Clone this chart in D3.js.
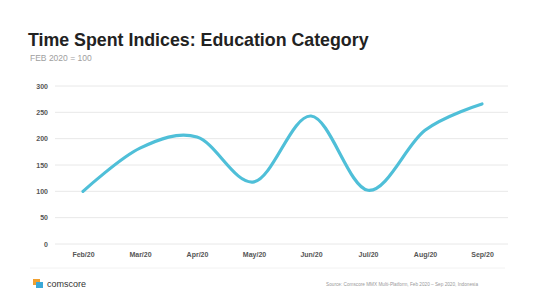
<!DOCTYPE html>
<html>
<head>
<meta charset="utf-8">
<script src="https://cdn.jsdelivr.net/npm/d3@7"></script>
<style>
  body { margin: 0; background: #fff; }
  svg { font-family: "Liberation Sans", Arial, sans-serif; }
</style>
</head>
<body>
<div id="chart"></div>
<script>
const months = ["Feb/20", "Mar/20", "Apr/20", "May/20", "Jun/20", "Jul/20", "Aug/20", "Sep/20"];
const index = [100, 182, 203, 118, 243, 102, 216, 266];
const yTicks = [0, 50, 100, 150, 200, 250, 300];

const width = 534, height = 300;
const margin = { top: 86, right: 26, bottom: 56, left: 55 };

const svg = d3.select("#chart").append("svg")
  .attr("width", width)
  .attr("height", height);

// titles
svg.append("text")
  .attr("x", 28).attr("y", 46)
  .style("font-size", "17.8px").style("font-weight", "bold")
  .attr("fill", "#222")
  .text("Time Spent Indices: Education Category");

svg.append("text")
  .attr("x", 30).attr("y", 61)
  .style("font-size", "8.5px")
  .attr("fill", "#a0a0a0")
  .text("FEB 2020 = 100");

const x = d3.scalePoint()
  .domain(months)
  .range([83, 482]);

const y = d3.scaleLinear()
  .domain([0, 300])
  .range([height - margin.bottom, margin.top]);

// gridlines
svg.append("g")
  .selectAll("line")
  .data(yTicks)
  .enter()
  .append("line")
  .attr("x1", margin.left)
  .attr("x2", width - margin.right)
  .attr("y1", d => y(d))
  .attr("y2", d => y(d))
  .attr("stroke", "#e8e8e8")
  .attr("stroke-width", 1);

// y axis labels
const yAxis = svg.append("g")
  .attr("transform", "translate(" + (margin.left - 7) + ",0)")
  .call(d3.axisLeft(y).tickValues(yTicks).tickSize(0).tickPadding(0));
yAxis.select(".domain").remove();
yAxis.selectAll("text")
  .style("font-size", "7px").style("font-weight", "bold")
  .attr("fill", "#555");

// x axis labels
const xAxis = svg.append("g")
  .attr("transform", "translate(0," + (y(0) + 4) + ")")
  .call(d3.axisBottom(x).tickSize(0).tickPadding(4));
xAxis.select(".domain").remove();
xAxis.selectAll("text")
  .style("font-size", "7px").style("font-weight", "bold")
  .attr("fill", "#555");

// line
const line = d3.line()
  .x((d, i) => x(months[i]))
  .y(d => y(d))
  .curve(d3.curveCardinal.tension(0));

svg.append("path")
  .datum(index)
  .attr("d", line)
  .attr("fill", "none")
  .attr("stroke", "#4fbfd8")
  .attr("stroke-width", 3.2)
  .attr("stroke-linecap", "round");

// footer
svg.append("line")
  .attr("x1", 30).attr("x2", 505)
  .attr("y1", 268).attr("y2", 268)
  .attr("stroke", "#f2f2f2");

svg.append("rect")
  .attr("x", 33).attr("y", 279).attr("width", 7).attr("height", 6)
  .attr("fill", "#f0a030");
svg.append("rect")
  .attr("x", 36).attr("y", 282).attr("width", 7).attr("height", 6)
  .attr("fill", "#3aa8d8");

svg.append("text")
  .attr("x", 47).attr("y", 287)
  .style("font-size", "9px")
  .attr("fill", "#333")
  .text("comscore");

svg.append("text")
  .attr("x", 478).attr("y", 286)
  .attr("text-anchor", "end")
  .style("font-size", "4.7px")
  .attr("fill", "#999")
  .text("Source: Comscore MMX Multi-Platform, Feb 2020 \u2013 Sep 2020, Indonesia");
</script>
</body>
</html>
